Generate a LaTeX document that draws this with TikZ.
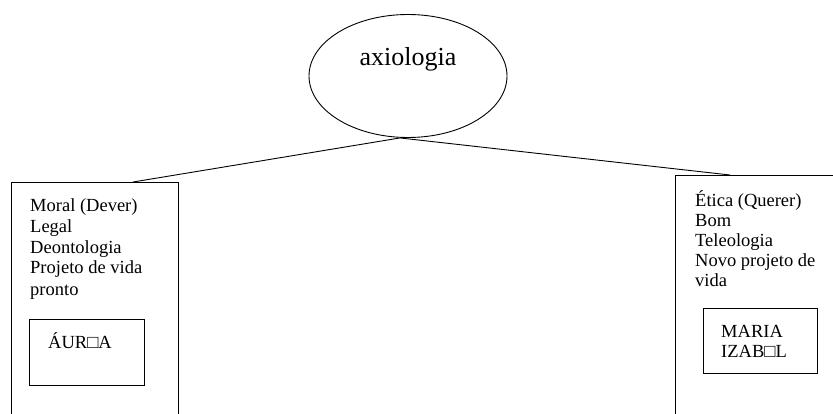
\documentclass[tikz,border=0pt]{standalone}
\usepackage{fontspec}
\setmainfont{Liberation Serif}
\usetikzlibrary{shapes.geometric}
\tikzset{
  axio ellipse/.style={draw,ellipse,line width=.9pt,inner sep=0pt,minimum width=198pt,minimum height=123pt},
  value frame/.style={draw,rectangle,line width=.8pt,inner sep=0pt,anchor=north west},
  value text/.style={inner sep=0pt,anchor=base west,align=left,font=\fontsize{18.5}{21}\selectfont},
  value link/.style={line width=.9pt}
}

\begin{document}
\begin{tikzpicture}[x=1pt,y=-1pt]
  \useasboundingbox (0,0) rectangle (833,414);
  \clip (0,0) rectangle (833,414);
  \node[axio ellipse,label={[font=\fontsize{26}{30}\selectfont,yshift=17pt]center:axiologia}] (axio) at (408,76) {};
  \node[value frame,minimum width=167pt,minimum height=248pt] (moral) at (11,182) {};
  \node[value text] (moraltext) at ([shift={(19,113)}]moral.north west)
    {Moral (Dever)\\Legal\\Deontologia\\Projeto de vida\\pronto};
  \node[value frame,minimum width=115pt,minimum height=66pt] (aurea) at (29,319) {};
  \node[value text] (aureatext) at ([shift={(19,29)}]aurea.north west) {ÁUR□A};
  \node[value frame,minimum width=185pt,minimum height=255pt] (etica) at (675,175) {};
  \node[value text,font=\fontsize{18.5}{20}\selectfont] (eticatext) at ([shift={(20,112)}]etica.north west)
    {Ética (Querer)\\Bom\\Teleologia\\Novo projeto de\\vida};
  \node[value frame,minimum width=114pt,minimum height=65pt] (maria) at (703,308) {};
  \node[value text,font=\fontsize{18.5}{20}\selectfont] (mariatext) at ([shift={(18,49)}]maria.north west)
    {MARIA\\IZAB□L};
  \draw[value link] ([xshift=-8pt]axio.south) -- ([xshift=122pt]moral.north west);
  \draw[value link] ([xshift=-8pt]axio.south) -- ([xshift=55pt]etica.north west);
\end{tikzpicture}
\end{document}
